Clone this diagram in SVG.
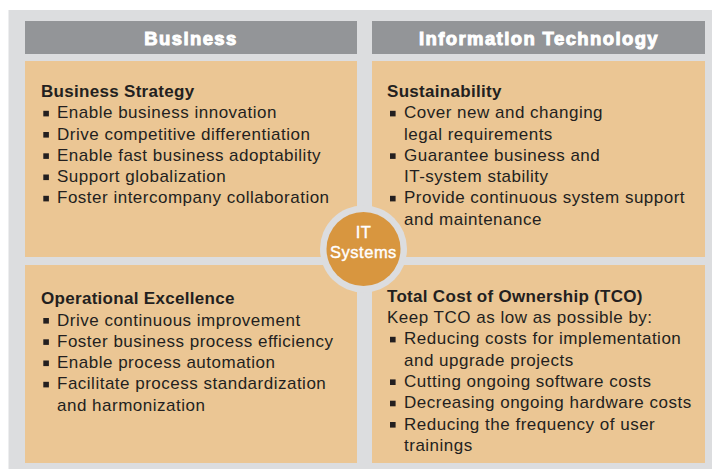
<svg xmlns="http://www.w3.org/2000/svg" width="712" height="469" viewBox="0 0 712 469">
<style>
.bg{fill:#dcdddf}
.hdr{fill:#939598}
.panel{fill:#ebc694}
.htxt{font-family:"Liberation Sans",Arial,sans-serif;font-weight:bold;font-size:18.5px;fill:#fff;stroke:#fff;stroke-width:1;letter-spacing:1.4px;text-anchor:middle}
.ttl{font-family:"Liberation Sans",Arial,sans-serif;font-weight:bold;font-size:17px;fill:#231f20;letter-spacing:0.3px}
.itm{font-family:"Liberation Sans",Arial,sans-serif;font-size:17px;fill:#231f20;letter-spacing:0.5px}
.bul{fill:#231f20}
.ctxt{font-family:"Liberation Sans",Arial,sans-serif;font-size:16.5px;fill:#fff;stroke:#fff;stroke-width:0.4;letter-spacing:0.5px;text-anchor:middle}
</style>
<rect class="bg" x="8.5" y="10" width="703.5" height="459"/>
<g id="header-business">
<rect class="hdr" x="25" y="21" width="332" height="33"/>
<text class="htxt" x="191" y="45">Business</text>
</g>
<g id="header-it">
<rect class="hdr" x="372" y="21" width="333" height="33"/>
<text class="htxt" x="539" y="45">Information Technology</text>
</g>
<g id="business-strategy">
<rect class="panel" x="25" y="61" width="332" height="196"/>
<text class="ttl" x="41" y="96.7">Business Strategy</text>
<rect class="bul" x="43.3" y="110.8" width="5.6" height="5.6"/>
<text class="itm" x="57" y="118.3">Enable business innovation</text>
<rect class="bul" x="43.3" y="132" width="5.6" height="5.6"/>
<text class="itm" x="57" y="139.5">Drive competitive differentiation</text>
<rect class="bul" x="43.3" y="153.3" width="5.6" height="5.6"/>
<text class="itm" x="57" y="160.8">Enable fast business adoptability</text>
<rect class="bul" x="43.3" y="174.5" width="5.6" height="5.6"/>
<text class="itm" x="57" y="182">Support globalization</text>
<rect class="bul" x="43.3" y="195.8" width="5.6" height="5.6"/>
<text class="itm" x="57" y="203.3">Foster intercompany collaboration</text>
</g>
<g id="sustainability">
<rect class="panel" x="372" y="61" width="333" height="196"/>
<text class="ttl" x="387" y="96.7">Sustainability</text>
<rect class="bul" x="390" y="110.8" width="5.6" height="5.6"/>
<text class="itm" x="404" y="118.3">Cover new and changing</text>
<text class="itm" x="404" y="139.5">legal requirements</text>
<rect class="bul" x="390" y="153.3" width="5.6" height="5.6"/>
<text class="itm" x="404" y="160.8">Guarantee business and</text>
<text class="itm" x="404" y="182">IT-system stability</text>
<rect class="bul" x="390" y="195.8" width="5.6" height="5.6"/>
<text class="itm" x="404" y="203.3">Provide continuous system support</text>
<text class="itm" x="404" y="224.6">and maintenance</text>
</g>
<g id="operational-excellence">
<rect class="panel" x="25" y="265" width="332" height="198"/>
<text class="ttl" x="41" y="304">Operational Excellence</text>
<rect class="bul" x="43.3" y="318" width="5.6" height="5.6"/>
<text class="itm" x="57" y="325.5">Drive continuous improvement</text>
<rect class="bul" x="43.3" y="339.3" width="5.6" height="5.6"/>
<text class="itm" x="57" y="346.8">Foster business process efficiency</text>
<rect class="bul" x="43.3" y="360.5" width="5.6" height="5.6"/>
<text class="itm" x="57" y="368">Enable process automation</text>
<rect class="bul" x="43.3" y="381.8" width="5.6" height="5.6"/>
<text class="itm" x="57" y="389.3">Facilitate process standardization</text>
<text class="itm" x="57" y="410.6">and harmonization</text>
</g>
<g id="tco">
<rect class="panel" x="372" y="265" width="333" height="198"/>
<text class="ttl" x="387" y="301.7">Total Cost of Ownership (TCO)</text>
<text class="itm" x="387" y="323">Keep TCO as low as possible by:</text>
<rect class="bul" x="390" y="336.8" width="5.6" height="5.6"/>
<text class="itm" x="404" y="344.3">Reducing costs for implementation</text>
<text class="itm" x="404" y="365.6">and upgrade projects</text>
<rect class="bul" x="390" y="379.4" width="5.6" height="5.6"/>
<text class="itm" x="404" y="386.9">Cutting ongoing software costs</text>
<rect class="bul" x="390" y="400.7" width="5.6" height="5.6"/>
<text class="itm" x="404" y="408.2">Decreasing ongoing hardware costs</text>
<rect class="bul" x="390" y="422" width="5.6" height="5.6"/>
<text class="itm" x="404" y="429.5">Reducing the frequency of user</text>
<text class="itm" x="404" y="450.8">trainings</text>
</g>
<g id="connectors"></g>
<g id="it-systems">
<circle cx="363.5" cy="249" r="43.5" fill="#dcdddf"/>
<circle cx="363.5" cy="249" r="37" fill="#d8963f"/>
<text class="ctxt"><tspan x="363.5" y="238">IT</tspan><tspan x="363.5" y="257.5">Systems</tspan></text>
</g>
</svg>
